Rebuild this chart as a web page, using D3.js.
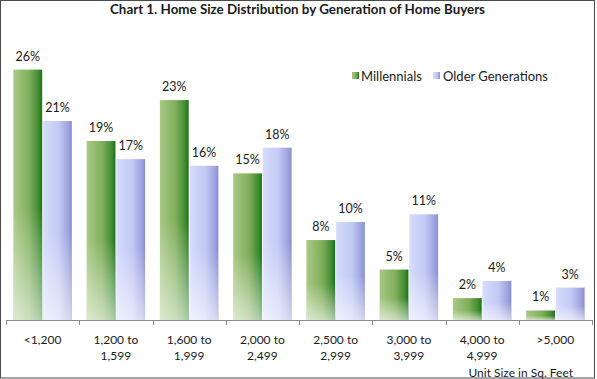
<!DOCTYPE html>
<html>
<head>
<meta charset="utf-8">
<script src="https://cdn.jsdelivr.net/npm/d3@7"></script>
<style>
  html, body { margin: 0; padding: 0; background: #fff; }
  svg { display: block; }
  text { font-family: Lato, "Open Sans", sans-serif; fill: #1a1a1a; }
</style>
</head>
<body>
<svg id="chart" width="597" height="379"></svg>
<script>
// ---- data ----
const categories = [
  ["<1,200"], ["1,200 to", "1,599"], ["1,600 to", "1,999"], ["2,000 to", "2,499"],
  ["2,500 to", "2,999"], ["3,000 to", "3,999"], ["4,000 to", "4,999"], [">5,000"]
];
const seriesNames = ["Millennials", "Older Generations"];
const millennials = [26.3, 18.8, 23.1, 15.4, 8.4, 5.3, 2.3, 1.0];
const olderGenerations = [20.9, 16.9, 16.2, 18.1, 10.3, 11.1, 4.1, 3.4];
const millennialsLabels = ["26%", "19%", "23%", "15%", "8%", "5%", "2%", "1%"];
const olderLabels = ["21%", "17%", "16%", "18%", "10%", "11%", "4%", "3%"];
const title = "Chart 1. Home Size Distribution by Generation of Home Buyers";
const axisTitle = "Unit Size in Sq. Feet";

const svg = d3.select("#chart");
const defs = svg.append("defs");

function hGrad(id, stops) {
  const g = defs.append("linearGradient").attr("id", id)
    .attr("x1", 0).attr("y1", 0).attr("x2", 1).attr("y2", 0);
  stops.forEach(s => g.append("stop").attr("offset", s[0]).attr("stop-color", s[1]));
}
hGrad("gGreen", [[0, "#a9c986"], [0.55, "#80ae5b"], [0.88, "#3f8b30"], [1, "#1c6e1a"]]);
hGrad("gBlue", [[0, "#d5dcfc"], [0.55, "#c2c9f4"], [0.9, "#9aa0dc"], [1, "#868cca"]]);
const fade = defs.append("linearGradient").attr("id", "fade")
  .attr("x1", 0).attr("y1", 0).attr("x2", 0).attr("y2", 1);
fade.append("stop").attr("offset", 0.55).attr("stop-color", "#fff").attr("stop-opacity", 0);
fade.append("stop").attr("offset", 1).attr("stop-color", "#fff").attr("stop-opacity", 0.6);

// ---- scales ----
const x0 = d3.scaleBand().domain(d3.range(categories.length)).range([6, 592]).padding(0);
const x1 = d3.scaleBand().domain(seriesNames)
  .range([7.4, x0.bandwidth() - 7.4]).paddingInner(0.03);
const y = d3.scaleLinear().domain([0, 30]).range([320, 34.4]);

const data = categories.map((c, i) => ({
  i, vals: [
    { s: seriesNames[0], v: millennials[i], lab: millennialsLabels[i], fill: "url(#gGreen)" },
    { s: seriesNames[1], v: olderGenerations[i], lab: olderLabels[i], fill: "url(#gBlue)" }
  ]
}));

// ---- bars ----
const groups = svg.append("g").selectAll("g").data(data).join("g")
  .attr("transform", d => `translate(${x0(d.i)},0)`);
groups.selectAll("rect.bar").data(d => d.vals).join("rect")
  .attr("class", "bar")
  .attr("x", d => x1(d.s)).attr("width", x1.bandwidth())
  .attr("y", d => y(d.v)).attr("height", d => y(0) - y(d.v))
  .attr("fill", d => d.fill);
groups.selectAll("rect.fade").data(d => d.vals).join("rect")
  .attr("class", "fade")
  .attr("x", d => x1(d.s)).attr("width", x1.bandwidth())
  .attr("y", d => y(d.v)).attr("height", d => y(0) - y(d.v))
  .attr("fill", "url(#fade)");
groups.selectAll("text.lab").data(d => d.vals).join("text")
  .attr("class", "lab")
  .attr("x", d => x1(d.s) + x1.bandwidth() / 2)
  .attr("y", d => y(d.v) - 9)
  .attr("text-anchor", "middle")
  .style("font-size", "12.5px")
  .text(d => d.lab);

// ---- x axis ----
const axisG = svg.append("g");
axisG.append("line")
  .attr("x1", x0.range()[0]).attr("x2", x0.range()[1])
  .attr("y1", y(0) + 0.5).attr("y2", y(0) + 0.5)
  .attr("stroke", "#8a8a8a").attr("stroke-width", 1);
const bounds = d3.range(categories.length + 1).map(i => x0.range()[0] + i * x0.bandwidth());
axisG.selectAll("line.tick").data(bounds).join("line")
  .attr("class", "tick")
  .attr("x1", d => Math.round(d) + 0.5).attr("x2", d => Math.round(d) + 0.5)
  .attr("y1", y(0)).attr("y2", y(0) + 5)
  .attr("stroke", "#8a8a8a");
const catG = axisG.selectAll("text.cat").data(categories).join("text")
  .attr("class", "cat")
  .attr("text-anchor", "middle")
  .style("font-size", "12px");
catG.selectAll("tspan").data((d, i) => d.map((t, j) => ({ t, j, i }))).join("tspan")
  .attr("x", d => x0(d.i) + x0.bandwidth() / 2)
  .attr("y", d => 344 + d.j * 16)
  .text(d => d.t);

svg.append("text")
  .attr("x", 573).attr("y", 377)
  .attr("text-anchor", "end")
  .style("font-size", "12px")
  .text(axisTitle);

// ---- title ----
svg.append("text")
  .attr("x", 110).attr("y", 14)
  .attr("textLength", 375).attr("lengthAdjust", "spacingAndGlyphs")
  .style("font-size", "14px").style("font-weight", "bold")
  .text(title);

// ---- legend ----
const legend = [
  { name: seriesNames[0], fill: "url(#gGreen)", sx: 352, tx: 361 },
  { name: seriesNames[1], fill: "url(#gBlue)", sx: 433, tx: 443 }
];
const lg = svg.append("g").selectAll("g").data(legend).join("g");
lg.append("rect").attr("x", d => d.sx).attr("y", 72).attr("width", 7).attr("height", 7)
  .attr("fill", d => d.fill);
lg.append("text").attr("x", d => d.tx).attr("y", 80.5)
  .style("font-size", "13px").text(d => d.name);

// ---- border ----
svg.append("rect").attr("x", 0.5).attr("y", 0.5).attr("width", 594).attr("height", 377.5)
  .attr("fill", "none").attr("stroke", "#4a4a4a").attr("stroke-width", 1);
</script>
</body>
</html>
